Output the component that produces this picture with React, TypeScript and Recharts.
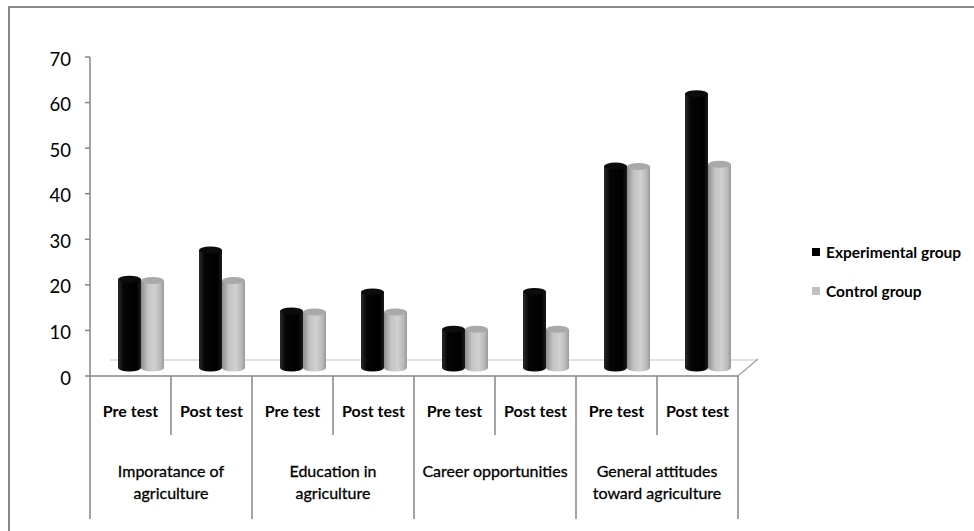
import React from "react";
import { BarChart, Bar, XAxis, YAxis, Legend } from "recharts";

// data
const groupLines = [
  ["Imporatance of", "agriculture"],
  ["Education in", "agriculture"],
  ["Career opportunities"],
  ["General attitudes", "toward agriculture"],
];
const phases = ["Pre test", "Post test"];
const experimental = [19.5, 25.9, 12.5, 16.7, 8.5, 16.8, 44.3, 60.2];
const control = [19.2, 19.2, 12.3, 12.3, 8.5, 8.5, 44.2, 44.7];
const yTicks = [0, 10, 20, 30, 40, 50, 60, 70];

const data = experimental.map((v, i) => ({
  key: `c${i}`,
  phase: phases[i % 2],
  group: Math.floor(i / 2),
  experimental: v,
  control: control[i],
}));

const W = 974;
const H = 531;
const LEFT = 90;
const RIGHT = 738;
const TOP = 57;
const BOTTOM = 376;
const BAND = (RIGHT - LEFT) / data.length;
const FONT = "Lato, 'Open Sans', sans-serif";
const AXIS = "#868686";

// 3d offset of the cylinders
const DX = 10;
const DY = 8;

function Cylinder(props: any) {
  const { x, y, width, height, dataKey } = props;
  if (!height || height <= 0) return null;
  const black = dataKey === "experimental";
  const left = x + DX;
  const top = y - DY;
  const bot = y + height - DY;
  const rx = width / 2;
  const ry = 3.5;
  const body = black ? "url(#gBlack)" : "url(#gGray)";
  return (
    <g>
      <ellipse cx={left + rx} cy={bot} rx={rx} ry={ry} fill={body} />
      <rect x={left} y={top} width={width} height={bot - top} fill={body} />
      <ellipse cx={left + rx} cy={top} rx={rx} ry={ry} fill={black ? "#0c0c0c" : "#a9a9a9"} />
    </g>
  );
}

function CategoryTick(props: any) {
  const { x, payload } = props;
  const i = payload.index;
  const row = data[i];
  const l = x - BAND / 2;
  const r = x + BAND / 2;
  const outer = i % 2 === 0;
  return (
    <g fontFamily={FONT}>
      <text x={x} y={417} textAnchor="middle" fontSize={16} fontWeight="bold" fill="#000">
        {row.phase}
      </text>
      <line x1={l} y1={BOTTOM} x2={l} y2={outer ? 519 : 435} stroke={AXIS} strokeWidth={1.5} />
      {i === data.length - 1 && (
        <line x1={r} y1={BOTTOM} x2={r} y2={519} stroke={AXIS} strokeWidth={1.5} />
      )}
      {!outer &&
        groupLines[row.group].map((t, k) => (
          <text
            key={k}
            x={l}
            y={477 + k * 22}
            textAnchor="middle"
            fontSize={16}
            fill="#000"
            stroke="#000"
            strokeWidth={0.3}
          >
            {t}
          </text>
        ))}
    </g>
  );
}

function LegendBox() {
  const items = [
    { label: "Experimental group", color: "#000000" },
    { label: "Control group", color: "#c0c0c0" },
  ];
  return (
    <div style={{ fontFamily: FONT }}>
      {items.map((it) => (
        <div key={it.label} style={{ display: "flex", alignItems: "center", height: 22, marginBottom: 17 }}>
          <span style={{ width: 8, height: 8, background: it.color, marginRight: 6, display: "inline-block" }} />
          <span style={{ fontSize: 15.5, fontWeight: "bold", color: "#000", whiteSpace: "nowrap" }}>{it.label}</span>
        </div>
      ))}
    </div>
  );
}

export default function App() {
  return (
    <div style={{ position: "fixed", left: 0, top: 0, width: W, height: H, overflow: "hidden", background: "#fff" }}>
      <svg width={W} height={H} style={{ position: "absolute", left: 0, top: 0 }}>
        <path d={`M9 ${H} L9 7 L${W} 7`} fill="none" stroke="#878787" strokeWidth={2} />
        <line x1={LEFT + 20} y1={360} x2={RIGHT + 20} y2={360} stroke="#d9d9d9" strokeWidth={1.5} />
        <line x1={RIGHT} y1={BOTTOM} x2={RIGHT + 20} y2={359} stroke="#a0a0a0" strokeWidth={1.2} />
      </svg>
      <div style={{ position: "absolute", left: 0, top: 0 }}>
        <BarChart
          width={W}
          height={H}
          data={data}
          margin={{ top: TOP, right: W - RIGHT, bottom: H - BOTTOM - 130, left: LEFT - 60 }}
          barSize={23}
          barGap={0}
        >
          <defs>
            <linearGradient id="gBlack" x1="0" y1="0" x2="1" y2="0">
              <stop offset="0" stopColor="#2a2a2a" />
              <stop offset="0.25" stopColor="#050505" />
              <stop offset="0.8" stopColor="#000000" />
              <stop offset="1" stopColor="#1c1c1c" />
            </linearGradient>
            <linearGradient id="gGray" x1="0" y1="0" x2="1" y2="0">
              <stop offset="0" stopColor="#8e8e8e" />
              <stop offset="0.3" stopColor="#c4c4c4" />
              <stop offset="0.6" stopColor="#d0d0d0" />
              <stop offset="0.85" stopColor="#b8b8b8" />
              <stop offset="1" stopColor="#9a9a9a" />
            </linearGradient>
          </defs>
          <YAxis
            width={60}
            domain={[0, 70]}
            ticks={yTicks}
            interval={0}
            axisLine={{ stroke: AXIS, strokeWidth: 1.5 }}
            tickLine={{ stroke: AXIS, strokeWidth: 1.5 }}
            tickSize={5}
            tickMargin={14}
            tick={{ fontSize: 18.5, fill: "#000", fontFamily: FONT, dy: 2 }}
          />
          <XAxis
            dataKey="key"
            height={130}
            interval={0}
            axisLine={{ stroke: AXIS, strokeWidth: 1.5 }}
            tickLine={false}
            tick={<CategoryTick />}
          />
          <Legend
            layout="horizontal"
            align="center"
            verticalAlign="middle"
            content={<LegendBox />}
            wrapperStyle={{ left: 812, top: 241, width: 160, height: 80 }}
          />
          <Bar dataKey="experimental" name="Experimental group" fill="#000" shape={<Cylinder />} isAnimationActive={false} />
          <Bar dataKey="control" name="Control group" fill="#c0c0c0" shape={<Cylinder />} isAnimationActive={false} />
        </BarChart>
      </div>
    </div>
  );
}
